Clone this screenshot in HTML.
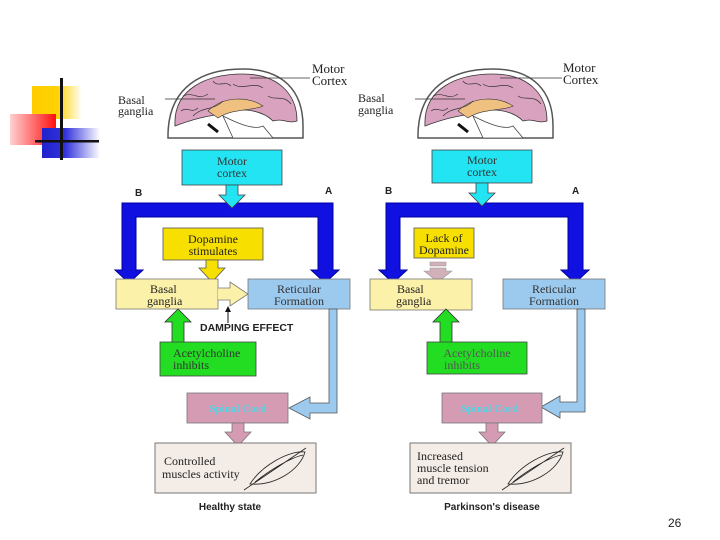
<!DOCTYPE html>
<html><head><meta charset="utf-8"><style>
html,body{margin:0;padding:0;background:#fff;}
svg{display:block;}
text{font-family:"Liberation Serif",serif;}
.s{font-family:"Liberation Sans",sans-serif;font-weight:bold;}
</style></head><body>
<svg width="720" height="540" viewBox="0 0 720 540" xmlns="http://www.w3.org/2000/svg">
<defs>
<linearGradient id="gy" x1="0" x2="1"><stop offset="0" stop-color="#ffcc00"/><stop offset="0.5" stop-color="#ffd200"/><stop offset="1" stop-color="#fff"/></linearGradient>
<linearGradient id="gr" x1="0" x2="1"><stop offset="0" stop-color="#ffd0d0"/><stop offset="1" stop-color="#ff1010"/></linearGradient>
<linearGradient id="gb" x1="0" x2="1"><stop offset="0" stop-color="#2222cc"/><stop offset="0.4" stop-color="#3333dd"/><stop offset="1" stop-color="#fff"/></linearGradient>
<g id="brain">
<path d="M5,70 C5,20 40,3 80,3 C120,3 140,25 140,60 L140,72 L5,72Z" fill="#fff" stroke="#555" stroke-width="1.5"/>
<path d="M12,60 C10,22 45,8 80,8 C115,8 134,28 134,55 C125,58 120,52 110,55 C100,45 80,40 60,48 C40,50 25,55 12,60Z" fill="#d9a3c0" stroke="#333" stroke-width="0.8"/>
<path d="M45,45 C60,30 85,30 100,40 C90,45 70,42 55,52Z" fill="#f0c080" stroke="#333" stroke-width="0.6"/>
<path d="M60,50 C70,55 90,65 100,60 L110,72 L70,72Z" fill="#fff" stroke="#444" stroke-width="0.8"/>
<path d="M20,30 C30,25 35,35 45,28 M30,50 C40,40 50,45 60,35 M70,18 C80,25 90,15 100,22 M105,30 C112,35 120,28 128,38 M18,45 C25,40 28,48 35,42 M50,15 C55,22 62,14 68,20" stroke="#333" stroke-width="0.7" fill="none"/>
<path d="M45,58 L55,66" stroke="#111" stroke-width="3"/>
</g>
</defs>

<!-- logo -->
<rect x="32" y="86" width="50" height="33" fill="url(#gy)"/>
<rect x="10" y="114" width="46" height="31" fill="url(#gr)"/>
<rect x="42" y="128" width="58" height="30" fill="url(#gb)"/>
<rect x="60" y="78" width="3" height="82" fill="#111"/>
<rect x="35" y="140" width="64" height="2.5" fill="#111"/>

<!-- brains -->
<use href="#brain" x="163" y="66"/>
<use href="#brain" x="413" y="66"/>
<line x1="165" y1="99" x2="215" y2="99" stroke="#333" stroke-width="0.8"/>
<line x1="250" y1="78" x2="310" y2="78" stroke="#333" stroke-width="0.8"/>
<line x1="415" y1="99" x2="465" y2="99" stroke="#333" stroke-width="0.8"/>
<line x1="500" y1="78" x2="562" y2="78" stroke="#333" stroke-width="0.8"/>
<text x="118" y="104" font-size="12" fill="#222">Basal</text>
<text x="118" y="115" font-size="12" fill="#222">ganglia</text>
<text x="312" y="73" font-size="13" fill="#222">Motor</text>
<text x="312" y="85" font-size="13" fill="#222">Cortex</text>
<text x="358" y="102" font-size="12" fill="#222">Basal</text>
<text x="358" y="114" font-size="12" fill="#222">ganglia</text>
<text x="563" y="72" font-size="13" fill="#222">Motor</text>
<text x="563" y="84" font-size="13" fill="#222">Cortex</text>

<!-- LEFT PANEL -->
<path d="M122,203 H333 V270 H339 L325,283 L311,270 H318 V217 H136 V270 H143 L129,283 L115,270 H122Z" fill="#1010e0" stroke="#0000a0" stroke-width="1"/>
<rect x="182" y="150" width="100" height="35" fill="#22e4f2" stroke="#444" stroke-width="0.8"/>
<path d="M226,185 H238 V195 H245 L232,208 L219,195 H226Z" fill="#22e4f2" stroke="#444" stroke-width="0.8"/>
<text x="232" y="165" font-size="12" text-anchor="middle" fill="#333">Motor</text>
<text x="232" y="177" font-size="12" text-anchor="middle" fill="#333">cortex</text>
<text x="135" y="196" class="s" font-size="10" fill="#222">B</text>
<text x="325" y="194" class="s" font-size="10" fill="#222">A</text>
<rect x="163" y="228" width="100" height="32" fill="#f7e000" stroke="#555" stroke-width="0.8"/>
<text x="213" y="243" font-size="12" text-anchor="middle" fill="#222">Dopamine</text>
<text x="213" y="255" font-size="12" text-anchor="middle" fill="#222">stimulates</text>
<path d="M206,260 H218 V268 H225 L212,282 L199,268 H206Z" fill="#f7e000" stroke="#555" stroke-width="0.8"/>
<rect x="116" y="279" width="102" height="30" fill="#fcf1a8" stroke="#777" stroke-width="0.8"/>
<text x="150" y="293" font-size="12" fill="#222">Basal</text>
<text x="147" y="305" font-size="12" fill="#222">ganglia</text>
<path d="M218,288 H230 V282 L248,294 L230,306 V300 H218" fill="#fcf1a8" stroke="#777" stroke-width="0.8"/>
<rect x="248" y="279" width="102" height="30" fill="#9ccaef" stroke="#777" stroke-width="0.8"/>
<text x="299" y="293" font-size="12" text-anchor="middle" fill="#333">Reticular</text>
<text x="299" y="305" font-size="12" text-anchor="middle" fill="#333">Formation</text>
<line x1="228" y1="323" x2="228" y2="309" stroke="#111" stroke-width="1"/>
<path d="M225,312 L228,306 L231,312Z" fill="#111"/>
<text x="200" y="331" class="s" font-size="10.5" fill="#222">DAMPING EFFECT</text>
<path d="M172,345 V322 H165 L178,309 L191,322 H184 V345Z" fill="#22dd22" stroke="#333" stroke-width="0.8"/>
<rect x="160" y="342" width="96" height="34" fill="#22dd22" stroke="#444" stroke-width="0.8"/>
<text x="173" y="357" font-size="12" fill="#333">Acetylcholine</text>
<text x="173" y="369" font-size="12" fill="#333">inhibits</text>
<path d="M329,309 H337 V413 H310 V419 L289,408 L310,397 V403 H329Z" fill="#9ccaef" stroke="#555" stroke-width="0.8"/>
<rect x="187" y="393" width="101" height="30" fill="#d49bb3" stroke="#777" stroke-width="0.8"/>
<text x="238" y="412" font-size="11" font-weight="bold" text-anchor="middle" fill="#4fd6e6">Spinal Cord</text>
<path d="M232,423 H244 V432 H251 L238,446 L225,432 H232Z" fill="#d49bb3" stroke="#777" stroke-width="0.8"/>
<rect x="155" y="443" width="161" height="50" fill="#f4ece6" stroke="#777" stroke-width="1"/>
<text x="164" y="465" font-size="12" fill="#222">Controlled</text>
<text x="162" y="478" font-size="12" fill="#222">muscles activity</text>
<g stroke="#222" stroke-width="0.8" fill="none">
<path d="M250,484 C262,465 290,450 305,452 C300,470 275,486 250,484Z"/>
<path d="M244,490 L306,448 M255,482 C270,470 290,458 303,455"/>
</g>
<text x="230" y="510" class="s" font-size="10" text-anchor="middle" fill="#222">Healthy state</text>

<!-- RIGHT PANEL -->
<path d="M386,203 H583 V270 H589 L575,283 L561,270 H568 V217 H400 V270 H407 L393,283 L379,270 H386Z" fill="#1010e0" stroke="#0000a0" stroke-width="1"/>
<rect x="432" y="150" width="100" height="33" fill="#22e4f2" stroke="#444" stroke-width="0.8"/>
<path d="M476,183 H488 V193 H495 L482,206 L469,193 H476Z" fill="#22e4f2" stroke="#444" stroke-width="0.8"/>
<text x="482" y="164" font-size="12" text-anchor="middle" fill="#333">Motor</text>
<text x="482" y="176" font-size="12" text-anchor="middle" fill="#333">cortex</text>
<text x="385" y="194" class="s" font-size="10" fill="#222">B</text>
<text x="572" y="194" class="s" font-size="10" fill="#222">A</text>
<rect x="414" y="228" width="60" height="30" fill="#f7e000" stroke="#555" stroke-width="0.8"/>
<text x="444" y="242" font-size="12" text-anchor="middle" fill="#222">Lack of</text>
<text x="444" y="254" font-size="12" text-anchor="middle" fill="#222">Dopamine</text>
<path d="M430,262 H446 V266 H430Z M430,268 H446 V271 H452 L438,282 L424,271 H430Z" fill="#d2b0b8" stroke="#999" stroke-width="0.6"/>
<rect x="370" y="279" width="102" height="31" fill="#fcf1a8" stroke="#777" stroke-width="0.8"/>
<text x="397" y="293" font-size="12" fill="#222">Basal</text>
<text x="396" y="305" font-size="12" fill="#222">ganglia</text>
<rect x="503" y="279" width="102" height="30" fill="#9ccaef" stroke="#777" stroke-width="0.8"/>
<text x="554" y="293" font-size="12" text-anchor="middle" fill="#333">Reticular</text>
<text x="554" y="305" font-size="12" text-anchor="middle" fill="#333">Formation</text>
<path d="M440,345 V322 H433 L446,309 L459,322 H452 V345Z" fill="#22dd22" stroke="#333" stroke-width="0.8"/>
<rect x="427" y="342" width="100" height="32" fill="#22dd22" stroke="#444" stroke-width="0.8"/>
<text x="477" y="357" font-size="12" text-anchor="middle" fill="#555">Acetylcholine</text>
<text x="444" y="369" font-size="12" fill="#555">inhibits</text>
<path d="M577,309 H585 V412 H560 V418 L541,407 L560,396 V402 H577Z" fill="#9ccaef" stroke="#555" stroke-width="0.8"/>
<rect x="442" y="393" width="100" height="30" fill="#d49bb3" stroke="#777" stroke-width="0.8"/>
<text x="490" y="412" font-size="11" font-weight="bold" text-anchor="middle" fill="#4fd6e6">Spinal Cord</text>
<path d="M486,423 H498 V432 H505 L492,446 L479,432 H486Z" fill="#d49bb3" stroke="#777" stroke-width="0.8"/>
<rect x="410" y="443" width="161" height="50" fill="#f4ece6" stroke="#777" stroke-width="1"/>
<text x="417" y="460" font-size="12" fill="#222">Increased</text>
<text x="417" y="472" font-size="12" fill="#222">muscle tension</text>
<text x="417" y="484" font-size="12" fill="#222">and tremor</text>
<g stroke="#222" stroke-width="0.8" fill="none">
<path d="M508,484 C520,465 548,450 563,452 C558,470 533,486 508,484Z"/>
<path d="M502,490 L564,448 M513,482 C528,470 548,458 561,455"/>
</g>
<text x="492" y="510" class="s" font-size="10" text-anchor="middle" fill="#222">Parkinson's disease</text>

<text x="668" y="527" font-size="12" fill="#222" style="font-family:'Liberation Sans',sans-serif">26</text>
</svg>
</body></html>
